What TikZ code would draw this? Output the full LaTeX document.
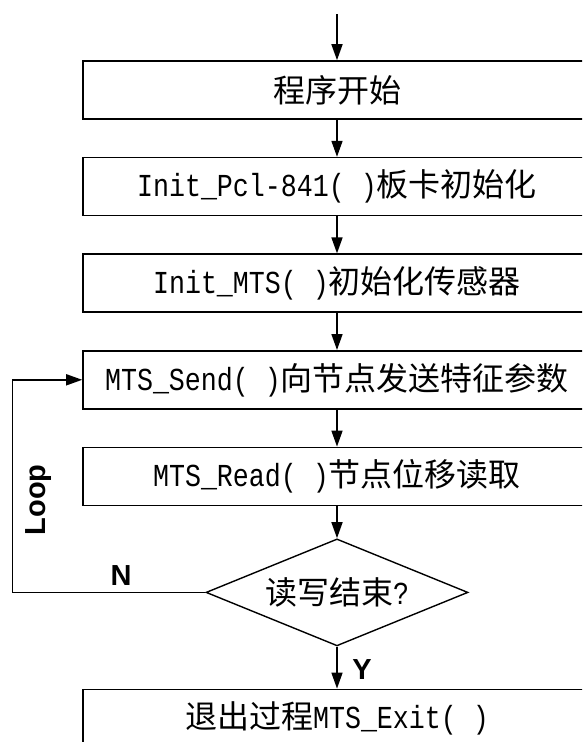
\documentclass[tikz,border=0pt]{standalone}
\usepackage{fontspec}
\setmainfont{Liberation Serif}
\setsansfont{Liberation Sans}
\setmonofont{Liberation Mono}[FakeStretch=0.833]
\newfontfamily\cjk{Noto Sans CJK SC}
\usetikzlibrary{positioning, arrows.meta, shapes.geometric}

\newcommand{\zh}[1]{{\cjk #1}}
\newcommand{\cod}[1]{{\ttfamily #1}}

\begin{document}
\begin{tikzpicture}[
  node distance=37pt,
  font=\fontsize{32pt}{38pt}\selectfont,
  % Estilos de bloques
  caja/.style={draw, rectangle, line width=1.6pt, minimum width=508pt, minimum height=58pt, inner sep=0pt},
  decision/.style={draw, diamond, aspect=2.45, line width=1.4pt, minimum width=262pt, minimum height=107pt, inner sep=0pt},
  etiqueta/.style={font=\fontsize{29pt}{34pt}\selectfont\sffamily\bfseries},
  % Estilos de flechas
  line/.style={draw, -{Triangle[width=11pt, length=16pt]}, line width=1.6pt}
]

  % Marco de la figura
  \useasboundingbox (0,0) rectangle (582pt,-742pt);
  \clip (0,0) rectangle (582pt,-742pt);

  % ==========================================
  % SECUENCIA PRINCIPAL
  % ==========================================
  \coordinate (entrada) at (337pt,-14pt);
  \node[caja] (inicio) at (337pt,-90pt) {\zh{程序开始}};
  \node[caja, below=of inicio] (init_pcl) {\cod{Init\_Pcl-841( )}\zh{板卡初始化}};
  \node[caja, below=of init_pcl] (init_mts) {\cod{Init\_MTS( )}\zh{初始化传感器}};
  \node[caja, below=of init_mts] (mts_send) {\cod{MTS\_Send( )}\zh{向节点发送特征参数}};
  \node[caja, below=of mts_send] (mts_read) {\cod{MTS\_Read( )}\zh{节点位移读取}};
  \node[decision, below=32pt of mts_read] (fin_rw) {\zh{读写结束}\cod{?}};
  \node[caja, below=42pt of fin_rw, text depth=6pt] (salida) {\zh{退出过程}\cod{MTS\_Exit( )}};

  \draw[line] (entrada) -- (inicio);
  \draw[line] (inicio) -- (init_pcl);
  \draw[line] (init_pcl) -- (init_mts);
  \draw[line] (init_mts) -- (mts_send);
  \draw[line] (mts_send) -- (mts_read);
  \draw[line] (mts_read) -- (fin_rw);
  \draw[line] (fin_rw) -- (salida);

  % ==========================================
  % LAZO DE LECTURA
  % ==========================================
  \draw[line] (fin_rw.west) -- ++(-193pt,0) coordinate (esquina) |- (mts_send.west);

  \node[etiqueta, rotate=90] (lazo) at (39pt,-500pt) {Loop};
  \node[etiqueta] (rama_n) at (121pt,-576pt) {N};
  \node[etiqueta] (rama_y) at (362pt,-670pt) {Y};

\end{tikzpicture}
\end{document}
